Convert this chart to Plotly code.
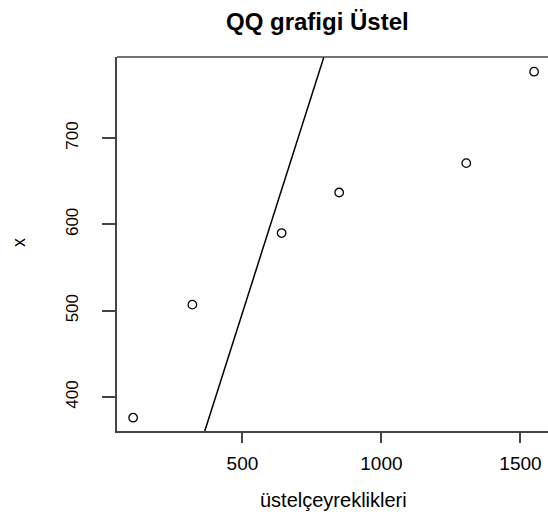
import plotly.graph_objects as go

# Data
theoretical_q = [107, 320, 641, 848, 1305, 1549]   # üstelçeyreklikleri
sample_x = [376, 507, 590, 637, 671, 777]           # x
line_slope = 1.012
line_intercept = -8.5
x_range = [49, 1599]
y_range = [360.6, 794]
x_ticks = [500, 1000, 1500]
y_ticks = [400, 500, 600, 700]

line_x = [x_range[0] - 500, x_range[1] + 500]
line_y = [line_slope * v + line_intercept for v in line_x]

FONT = "Liberation Sans, Arial, sans-serif"
AX = "#444444"

PL, PT, PB = 117, 57, 431     # plot area in page pixels
PW, PH = 548 - PL, PB - PT

fig = go.Figure()
fig.add_trace(go.Scatter(x=line_x, y=line_y, mode="lines",
                         line=dict(color="black", width=1.5), hoverinfo="skip"))
fig.add_trace(go.Scatter(x=theoretical_q, y=sample_x, mode="markers",
                         marker=dict(symbol="circle-open", size=8.5,
                                     color="black", line=dict(width=1.3)),
                         cliponaxis=False))

fig.update_layout(
    width=548, height=515,
    margin=dict(l=PL, r=0, t=PT, b=515 - PB, pad=0),
    paper_bgcolor="white", plot_bgcolor="white",
    showlegend=False,
    font=dict(family=FONT, color="black"),
    xaxis=dict(range=x_range, tickvals=x_ticks, showgrid=False, zeroline=False,
               showline=True, linecolor=AX, linewidth=1.5,
               ticks="outside", ticklen=10, tickcolor=AX, tickwidth=1.5,
               tickfont=dict(size=19, family=FONT), ticklabelstandoff=4),
    yaxis=dict(range=y_range, tickvals=y_ticks, showgrid=False, zeroline=False,
               showline=True, linecolor=AX, linewidth=1.5,
               ticks="outside", ticklen=13, tickcolor=AX, tickwidth=1.5,
               tickangle=-90, tickfont=dict(size=17, family=FONT),
               ticklabelstandoff=17),
    shapes=[dict(type="line", xref="paper", yref="paper", x0=0, x1=1, y0=1, y1=1,
                 line=dict(color=AX, width=1.5))],
    annotations=[
        dict(text="<b>QQ grafigi Üstel</b>", xref="paper", yref="paper",
             x=(317 - PL) / PW, y=1 + (PT - 21) / PH, xanchor="center",
             yanchor="middle", showarrow=False,
             font=dict(size=24, family=FONT)),
        dict(text="üstelçeyreklikleri", xref="paper", yref="paper",
             x=(333 - PL) / PW, y=-(500 - PB) / PH, xanchor="center",
             yanchor="middle", showarrow=False,
             font=dict(size=20, family=FONT)),
        dict(text="x", xref="paper", yref="paper",
             x=-(PL - 19) / PW, y=(PB - 243) / PH, xanchor="center",
             yanchor="middle", showarrow=False, textangle=-90,
             font=dict(size=18, family=FONT)),
    ],
)

fig.write_html("out.html",
               config={"displayModeBar": False},
               post_script="document.body.style.margin='0';"
                           "document.body.style.overflow='hidden';")
